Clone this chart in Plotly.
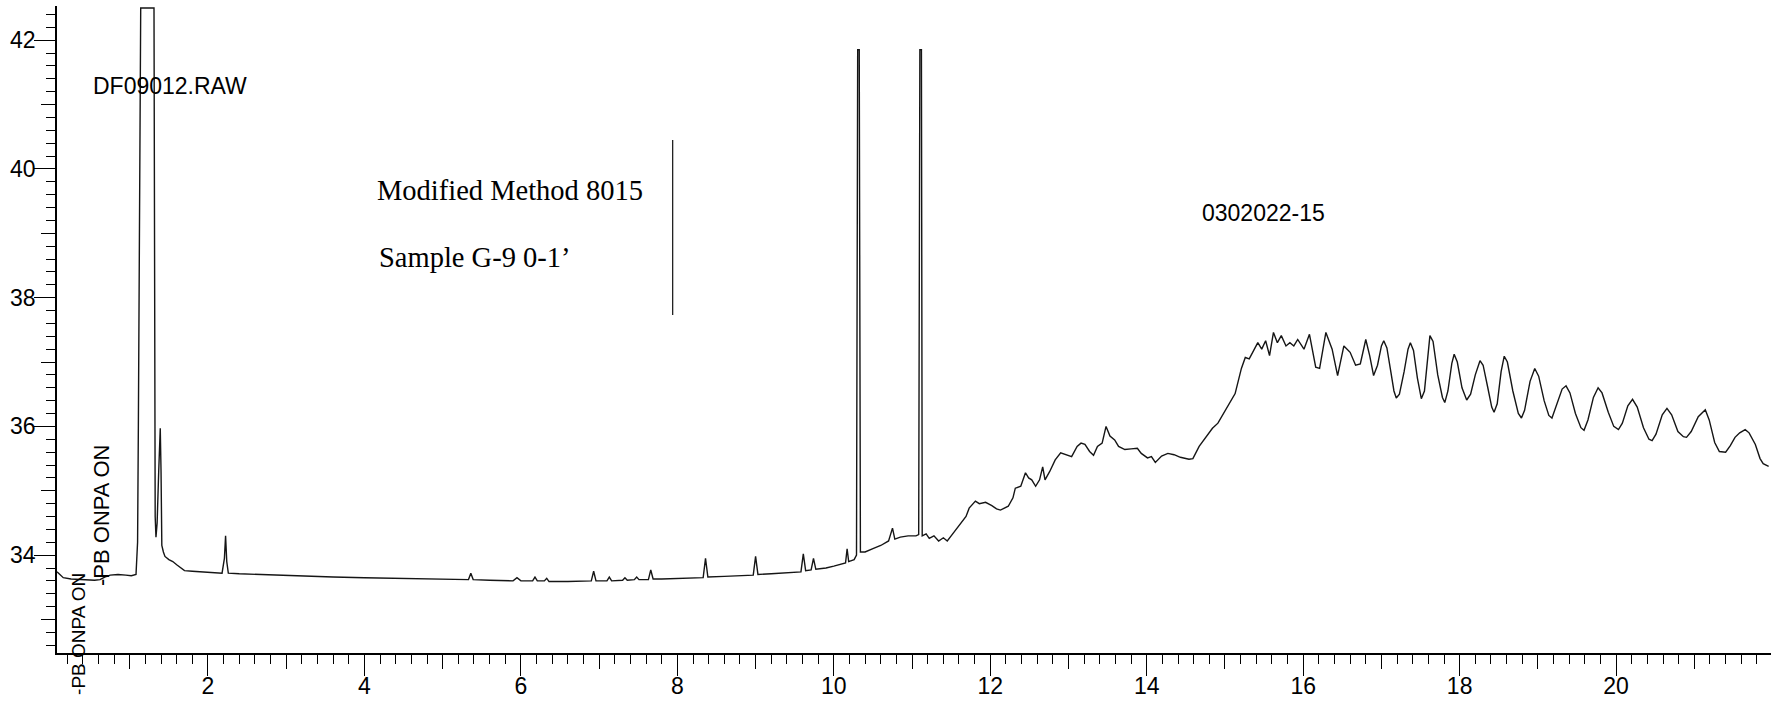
import plotly.graph_objects as go

# retention time (min) and detector signal
rt_min = [
    0.07, 0.10, 0.15, 0.25, 0.35, 0.45, 0.55, 0.62, 0.68, 0.75, 0.85, 0.95, 1.02,
    1.08, 1.10, 1.11, 1.12, 1.13, 1.14, 1.31, 1.315, 1.32, 1.325, 1.335, 1.35,
    1.37, 1.39, 1.40, 1.41, 1.43, 1.45, 1.50, 1.55, 1.60, 1.65, 1.70, 1.80,
    1.90, 2.00, 2.10, 2.18, 2.21, 2.225, 2.24, 2.26, 2.40, 2.60, 2.80, 3.00,
    3.30, 3.60, 4.00, 4.40, 4.80, 5.20, 5.33, 5.36, 5.39, 5.60, 5.90, 5.95,
    6.00, 6.15, 6.18, 6.21, 6.30, 6.33, 6.36, 6.60, 6.85, 6.90, 6.93, 6.96,
    7.10, 7.13, 7.16, 7.30, 7.33, 7.36, 7.45, 7.48, 7.51, 7.63, 7.66, 7.69,
    7.80, 8.00, 8.20, 8.33, 8.36, 8.39, 8.60, 8.80, 8.97, 9.00, 9.03, 9.20,
    9.40, 9.58, 9.61, 9.64, 9.71, 9.74, 9.77, 9.90, 10.00, 10.10, 10.15, 10.17,
    10.19, 10.26, 10.29, 10.305, 10.325, 10.34, 10.40, 10.50, 10.60, 10.70,
    10.75, 10.78, 10.85, 10.95, 11.05, 11.085, 11.10, 11.12, 11.13, 11.18,
    11.22, 11.28, 11.34, 11.40, 11.45, 11.50, 11.56, 11.62, 11.69, 11.73,
    11.81, 11.86, 11.94, 12.02, 12.08, 12.13, 12.23, 12.29, 12.32, 12.39,
    12.45, 12.49, 12.53, 12.58, 12.63, 12.67, 12.70, 12.76, 12.83, 12.90,
    12.98, 13.04, 13.11, 13.16, 13.21, 13.27, 13.32, 13.37, 13.43, 13.48,
    13.53, 13.59, 13.64, 13.72, 13.80, 13.88, 13.93, 14.01, 14.06, 14.11,
    14.19, 14.27, 14.35, 14.43, 14.54, 14.59, 14.67, 14.75, 14.84, 14.91,
    14.99, 15.07, 15.13, 15.21, 15.26, 15.31, 15.37, 15.42, 15.47, 15.52,
    15.57, 15.62, 15.67, 15.72, 15.78, 15.83, 15.88, 15.93, 16.01, 16.08,
    16.16, 16.21, 16.29, 16.37, 16.44, 16.52, 16.60, 16.67, 16.73,
]
signal = [
    33.74, 33.70, 33.65, 33.63, 33.62, 33.62, 33.61, 33.62, 33.66, 33.69, 33.70, 33.69, 33.68,
    33.70, 34.20, 36.00, 38.50, 41.00, 42.50, 42.50, 39.50, 36.50, 34.60, 34.28, 34.50,
    35.30, 35.97, 35.30, 34.15, 34.05, 33.98, 33.93, 33.90, 33.85, 33.80, 33.76, 33.75,
    33.74, 33.73, 33.72, 33.72, 33.95, 34.30, 33.90, 33.72, 33.71, 33.70, 33.69, 33.68,
    33.67, 33.66, 33.65, 33.64, 33.63, 33.62, 33.62, 33.72, 33.62, 33.61, 33.60, 33.65,
    33.60, 33.60, 33.66, 33.60, 33.60, 33.64, 33.59, 33.59, 33.59, 33.60, 33.75, 33.60,
    33.60, 33.66, 33.60, 33.61, 33.65, 33.61, 33.62, 33.66, 33.62, 33.62, 33.77, 33.63,
    33.63, 33.64, 33.65, 33.65, 33.95, 33.66, 33.67, 33.68, 33.69, 33.98, 33.70, 33.71,
    33.73, 33.74, 34.02, 33.76, 33.77, 33.95, 33.78, 33.80, 33.83, 33.86, 33.88, 34.10,
    33.90, 33.93, 34.00, 41.85, 41.85, 34.05, 34.05, 34.10, 34.15, 34.22,
    34.42, 34.25, 34.28, 34.30, 34.30, 34.32, 41.85, 41.85, 34.30, 34.33,
    34.26, 34.30, 34.22, 34.27, 34.22, 34.30, 34.40, 34.50, 34.60, 34.73,
    34.84, 34.80, 34.82, 34.77, 34.72, 34.70, 34.76, 34.89, 35.04, 35.07,
    35.28, 35.20, 35.17, 35.07, 35.17, 35.37, 35.17, 35.30, 35.48, 35.59,
    35.55, 35.53, 35.69, 35.74, 35.72, 35.61, 35.55, 35.69, 35.74, 36.00,
    35.85, 35.79, 35.69, 35.64, 35.65, 35.66, 35.58, 35.51, 35.53, 35.44,
    35.54, 35.58, 35.56, 35.52, 35.49, 35.50, 35.69, 35.82, 35.97, 36.05,
    36.22, 36.40, 36.51, 36.90, 37.07, 37.05, 37.20, 37.30, 37.20, 37.33,
    37.10, 37.46, 37.30, 37.41, 37.25, 37.30, 37.25, 37.35, 37.20, 37.43,
    36.92, 36.90, 37.46, 37.20, 36.79, 37.25, 37.15, 36.95, 36.97,
]

# the regular late-eluting oscillations (16.8 min onward)
rt_tail = [
    16.80, 16.85, 16.90, 16.95, 17.00, 17.03, 17.07, 17.12, 17.16, 17.19,
    17.23, 17.29, 17.34, 17.37, 17.41, 17.46, 17.51, 17.55, 17.59, 17.62,
    17.66, 17.72, 17.78, 17.81, 17.85, 17.90, 17.93, 17.97, 18.03, 18.09,
    18.14, 18.20, 18.26, 18.30, 18.36, 18.41, 18.44, 18.48, 18.53, 18.57,
    18.61, 18.68, 18.75, 18.79, 18.83, 18.90, 18.96, 19.01, 19.08, 19.14,
    19.18, 19.22, 19.26, 19.31, 19.36, 19.41, 19.48, 19.55, 19.59, 19.64,
    19.71, 19.77, 19.82, 19.90, 19.97, 20.03, 20.08, 20.15, 20.21, 20.27,
    20.35, 20.42, 20.46, 20.51, 20.59, 20.65, 20.71, 20.79, 20.86, 20.90,
    20.96, 21.05, 21.14, 21.19, 21.26, 21.32, 21.40, 21.46, 21.52, 21.58,
    21.65, 21.70, 21.78, 21.84, 21.88, 21.95,
]
sig_tail = [
    37.35, 37.10, 36.79, 36.95, 37.25, 37.33, 37.22, 36.85, 36.55, 36.44,
    36.50, 36.85, 37.20, 37.30, 37.18, 36.75, 36.43, 36.55, 37.10, 37.41,
    37.32, 36.80, 36.45, 36.37, 36.55, 36.98, 37.12, 37.00, 36.60, 36.41,
    36.50, 36.80, 37.02, 36.95, 36.60, 36.30, 36.22, 36.35, 36.85, 37.09,
    37.00, 36.55, 36.20, 36.13, 36.25, 36.70, 36.90, 36.78, 36.40, 36.17,
    36.13, 36.28, 36.40, 36.58, 36.63, 36.52, 36.20, 35.98, 35.94, 36.10,
    36.45, 36.60, 36.52, 36.22, 36.00, 35.95, 36.05, 36.32, 36.42, 36.30,
    35.98, 35.80, 35.78, 35.88, 36.18, 36.28, 36.18, 35.92, 35.84, 35.83,
    35.92, 36.15, 36.26, 36.10, 35.75, 35.61, 35.60, 35.70, 35.83, 35.90,
    35.95, 35.90, 35.72, 35.50, 35.42, 35.38,
]

# hand-drawn vertical stroke next to the method note
note_line_x = [7.94, 7.94]
note_line_y = [37.73, 40.45]

x_range = [0.07, 21.98]
y_range = [32.48, 42.53]

sans = "Liberation Sans, Arial, sans-serif"
serif = "Liberation Serif, Times New Roman, serif"

fig = go.Figure()
fig.add_trace(go.Scatter(
    x=rt_min + rt_tail, y=signal + sig_tail, mode="lines",
    line=dict(color="#151515", width=1.4), hoverinfo="skip", showlegend=False,
))
fig.add_trace(go.Scatter(
    x=note_line_x, y=note_line_y, mode="lines",
    line=dict(color="#222222", width=1.3), hoverinfo="skip", showlegend=False,
))
# empty trace so the overlay axes (odd-number ticks) get drawn
fig.add_trace(go.Scatter(x=[None], y=[None], xaxis="x2", yaxis="y2", showlegend=False))

axis_common = dict(showgrid=False, zeroline=False, ticks="outside", tickcolor="black",
                   automargin=False)

fig.update_layout(
    width=1782, height=703,
    margin=dict(l=57, r=11, t=6, b=50),
    paper_bgcolor="white", plot_bgcolor="white",
    showlegend=False,
    xaxis=dict(
        range=x_range, showline=True, linecolor="black", linewidth=1.5,
        tickmode="linear", tick0=0, dtick=2, ticklen=21, tickwidth=1.3,
        tickfont=dict(family=sans, size=23, color="black"),
        ticklabelstandoff=-9,
        minor=dict(tick0=0, dtick=0.2, ticks="outside", ticklen=9,
                   tickcolor="black", tickwidth=1, showgrid=False),
        **axis_common,
    ),
    yaxis=dict(
        range=y_range, showline=True, linecolor="black", linewidth=1.5,
        tickmode="linear", tick0=0, dtick=2, ticklen=21, tickwidth=1.3,
        tickfont=dict(family=sans, size=23, color="black"),
        ticklabelstandoff=-6,
        minor=dict(tick0=0, dtick=0.2, ticks="outside", ticklen=9,
                   tickcolor="black", tickwidth=1, showgrid=False),
        **axis_common,
    ),
    xaxis2=dict(
        range=x_range, overlaying="x", anchor="y2", side="bottom",
        showline=False, showticklabels=False,
        tickmode="linear", tick0=1, dtick=2, ticklen=15, tickwidth=1.2,
        **axis_common,
    ),
    yaxis2=dict(
        range=y_range, overlaying="y", anchor="x2", side="left",
        showline=False, showticklabels=False,
        tickmode="linear", tick0=1, dtick=2, ticklen=15, tickwidth=1.2,
        **axis_common,
    ),
    annotations=[
        dict(x=1.515, y=41.28, xref="x", yref="y", text="DF09012.RAW", showarrow=False,
             font=dict(family=sans, size=23, color="black")),
        dict(x=4.135, y=39.66, xref="x", yref="y", text="Modified Method 8015",
             showarrow=False, xanchor="left",
             font=dict(family=serif, size=28.5, color="black")),
        dict(x=4.16, y=38.62, xref="x", yref="y", text="Sample G-9 0-1’",
             showarrow=False, xanchor="left",
             font=dict(family=serif, size=28.5, color="black")),
        dict(x=15.49, y=39.32, xref="x", yref="y", text="0302022-15", showarrow=False,
             font=dict(family=sans, size=23, color="black")),
        dict(x=0.35, y=-0.068, xref="x", yref="paper", text="-PB ONPA ON",
             showarrow=False, textangle=-90, xanchor="center", yanchor="bottom",
             font=dict(family=sans, size=19, color="black")),
        dict(x=0.63, y=0.101, xref="x", yref="paper", text="-PB ONPA ON",
             showarrow=False, textangle=-90, xanchor="center", yanchor="bottom",
             font=dict(family=sans, size=22, color="black")),
    ],
)

# the page is photographed at exactly the figure size, so drop the default body margin
fig.write_html(
    "out.html",
    config={"displayModeBar": False},
    post_script="document.body.style.margin='0px';document.body.style.overflow='hidden';",
)
